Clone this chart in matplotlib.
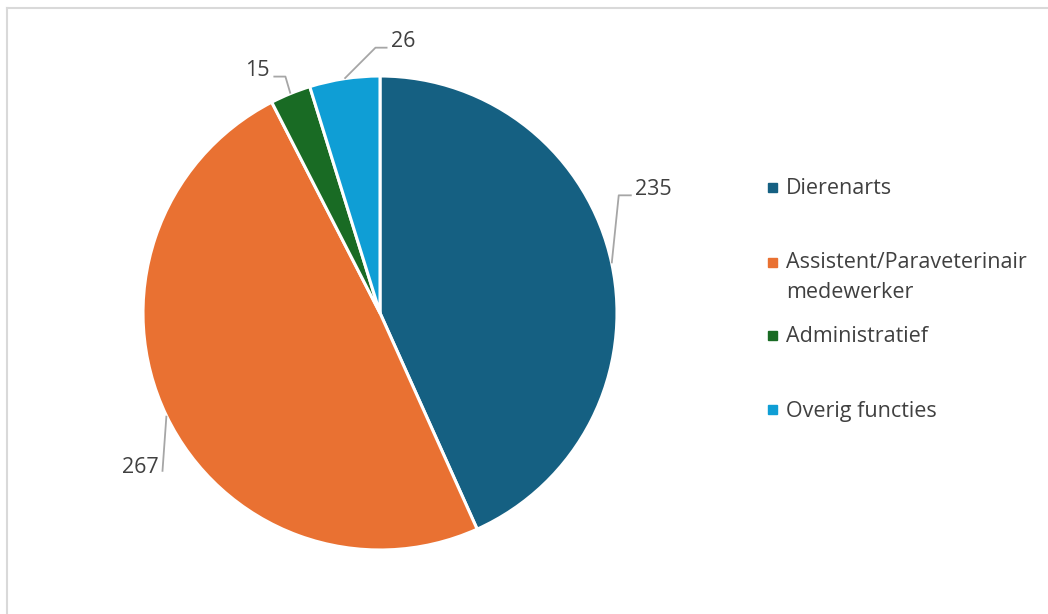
import matplotlib.pyplot as plt
from matplotlib.patches import Rectangle
from matplotlib.lines import Line2D
import numpy as np

# Functies binnen de praktijk (aantal medewerkers)
categories = ["Dierenarts", "Assistent/Paraveterinair\nmedewerker", "Administratief", "Overig functies"]
counts = [235, 267, 15, 26]
colors = ["#156082", "#E97132", "#196B24", "#0F9ED5"]

W, H = 1048, 614
CX, CY, R = 380, 313, 237  # pie centre and radius in pixels

plt.rcParams['font.family'] = ['Open Sans', 'DejaVu Sans']
text_color = "#404040"
fs = 15.5

fig = plt.figure(figsize=(W / 100, H / 100), dpi=100)
ax = fig.add_axes([0, 0, 1, 1])

wedges, _ = ax.pie(counts, colors=colors, startangle=90, counterclock=False,
                   wedgeprops=dict(edgecolor="white", linewidth=2.2))
ax.set_xlim(-CX / R, (W - CX) / R)
ax.set_ylim(-(H - CY) / R, CY / R)
ax.axis("off")

def p2d(dx, dy):
    # pixel offset -> data units
    return dx / R, -dy / R

# leader line elbow and text offsets (pixels, relative to the wedge edge point)
leaders = [
    dict(elbow=(7, -68), end=(20, -68), text=(23, -74), ha="left"),
    dict(elbow=(-4, 56), end=(-4, 56), text=(-8, 52), ha="right"),
    dict(elbow=(-5, -17), end=(-17, -17), text=(-21, -23), ha="right"),
    dict(elbow=(31, -31), end=(43, -31), text=(47, -37), ha="left"),
]

for w, n, ld in zip(wedges, counts, leaders):
    mid = np.deg2rad((w.theta1 + w.theta2) / 2)
    x0, y0 = np.cos(mid), np.sin(mid)
    ex, ey = p2d(*ld["elbow"])
    fx, fy = p2d(*ld["end"])
    ax.plot([x0, x0 + ex, x0 + fx], [y0, y0 + ey, y0 + fy], color="#A6A6A6", lw=1.3,
            solid_capstyle="butt")
    tx, ty = p2d(*ld["text"])
    ax.text(x0 + tx, y0 + ty, str(n), ha=ld["ha"], va="center", fontsize=fs,
            color=text_color)

# legend drawn by hand (uneven spacing between entries)
legend_y = [187, 262, 335, 409]
for lab, col, y in zip(categories, colors, legend_y):
    fig.patches.append(Rectangle((768 / W, 1 - (y + 4.5) / H), 9 / W, 9 / H,
                                 transform=fig.transFigure, color=col))
    if "\n" in lab:
        fig.text(786 / W, 1 - (y - 10) / H, lab, ha="left", va="top", fontsize=fs,
                 color=text_color, linespacing=1.55)
    else:
        fig.text(786 / W, 1 - (y + 2) / H, lab, ha="left", va="center", fontsize=fs,
                 color=text_color)

# chart area border (top and left visible)
fig.lines.append(Line2D([7 / W, 7 / W], [0, 1 - 8 / H], transform=fig.transFigure,
                        color="#D9D9D9", lw=1.5))
fig.lines.append(Line2D([7 / W, 1], [1 - 8 / H, 1 - 8 / H], transform=fig.transFigure,
                        color="#D9D9D9", lw=1.5))

fig.savefig("out.png", dpi=100, facecolor="white")
